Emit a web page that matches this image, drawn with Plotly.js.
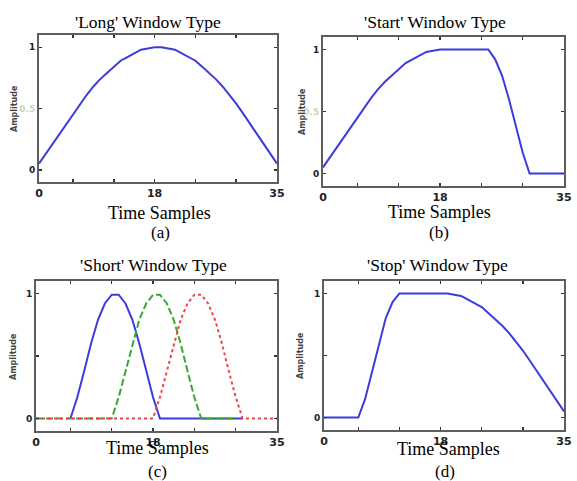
<!DOCTYPE html>
<html>
<head>
<meta charset="utf-8">
<script src="https://cdn.plot.ly/plotly-3.0.1.min.js"></script>
<style>html,body{margin:0;padding:0;background:#fff;}#chart{width:577px;height:481px;}</style>
</head>
<body>
<div id="chart"></div>
<script>
// ---- Data ----
const samples = [1,2,3,4,5,6,7,8,9,10,11,12,13,14,15,16,17,18,19,20,21,22,23,24,25,26,27,28,29,30,31,32,33,34,35,36];

const longWindow = [0.05,0.13,0.21,0.30,0.38,0.46,0.54,0.61,0.68,0.74,0.79,0.84,0.89,0.92,0.95,0.98,0.99,1.00,
                    1.00,0.99,0.98,0.95,0.92,0.89,0.84,0.79,0.74,0.68,0.61,0.54,0.46,0.38,0.30,0.21,0.13,0.05];

const startWindow = [0.05,0.13,0.21,0.30,0.38,0.46,0.54,0.61,0.68,0.74,0.79,0.84,0.89,0.92,0.95,0.98,0.99,1.00,
                     1,1,1,1,1,1,1,0.92,0.79,0.60,0.38,0.17,0,0,0,0,0,0];

const shortBlue  = [null,null,null,null,null,0,0.17,0.38,0.60,0.79,0.92,0.99,0.99,0.92,0.79,0.60,0.38,0.17,0,
                    0,0,0,0,0,0,0,0,0,0,0,0,null,null,null,null,null];
const shortGreen = [0,0,0,0,0,0,0,0,0,0,0,0,0.17,0.38,0.60,0.79,0.92,0.99,0.99,0.92,0.79,0.60,0.38,0.17,0,
                    0,0,0,0,0,null,null,null,null,null,null];
const shortRed   = [0,0,0,0,0,0,0,0,0,0,0,0,0,0,0,0,0,0,0.17,0.38,0.60,0.79,0.92,0.99,0.99,0.92,0.79,0.60,0.38,0.17,0,
                    0,0,0,0,0];

const stopWindow = [0,0,0,0,0,0,0.15,0.37,0.60,0.80,0.93,1,1,1,1,1,1,1,
                    1.00,0.99,0.98,0.95,0.92,0.89,0.84,0.79,0.74,0.68,0.61,0.54,0.46,0.38,0.30,0.21,0.13,0.05];

const xTickVals = [1,6,12,18,24,30,36];
const xTickText = ['0','','','18','','','35'];
const yTickVals = [0,0.5,1];
const yTickTextTop = ['0','<span style="color:#c8d8c0">0.5</span>','1'];
const yTickTextBottom = ['0','','1'];

const titles = ["'Long' Window Type","'Start' Window Type","'Short' Window Type","'Stop' Window Type"];
const xLabel = "Time Samples";
const yLabel = "Amplitude";
const panelLabels = ["(a)","(b)","(c)","(d)"];

// ---- Layout ----
const W = 577, H = 481;
const px = v => v / W;
const py = v => 1 - v / H;

const BLUE = '#3c3cde', GREEN = '#34a834', RED = '#ee4646';

function xa(dom) {
  return {domain: dom, range: [1,36], tickmode: 'array', tickvals: xTickVals, ticktext: xTickText,
          ticks: 'inside', ticklen: 3, tickwidth: 1.5, tickcolor: '#333', showline: true, mirror: 'ticks',
          linecolor: '#5e5e5e', linewidth: 2, showgrid: false, zeroline: false, fixedrange: true,
          tickfont: {family: 'DejaVu Sans', size: 11, color: '#222', weight: 'bold'}};
}
function ya(dom, txt) {
  return {domain: dom, range: [-0.1,1.1], tickmode: 'array', tickvals: yTickVals, ticktext: txt,
          ticks: 'inside', ticklen: 3, tickwidth: 1.5, tickcolor: '#333', showline: true, mirror: 'ticks',
          linecolor: '#5e5e5e', linewidth: 2, showgrid: false, zeroline: false, fixedrange: true,
          tickfont: {family: 'DejaVu Sans', size: 9, color: '#222', weight: 'bold'}};
}

const line = (y, xaN, yaN, color, dash) => ({
  x: samples, y: y, xaxis: xaN, yaxis: yaN, type: 'scatter', mode: 'lines',
  line: {color: color, width: 2, dash: dash || 'solid'}, connectgaps: false, hoverinfo: 'skip'
});

const data = [
  line(longWindow, 'x', 'y', BLUE),
  line(startWindow, 'x2', 'y2', BLUE),
  line(shortBlue, 'x3', 'y3', BLUE),
  line(shortGreen, 'x3', 'y3', GREEN, '7px,3px'),
  line(shortRed, 'x3', 'y3', RED, '3px,3px'),
  line(stopWindow, 'x4', 'y4', BLUE)
];

const serif = 'Liberation Serif, Times New Roman, serif';
function ann(text, x, y, size, extra) {
  return Object.assign({text: text, xref: 'paper', yref: 'paper', x: px(x), y: py(y),
    xanchor: 'center', yanchor: 'middle', showarrow: false,
    font: {family: serif, size: size, color: '#000'}}, extra || {});
}
function ylab(x, y) {
  return {text: yLabel, xref: 'paper', yref: 'paper', x: px(x), y: py(y), xanchor: 'center', yanchor: 'middle',
    showarrow: false, textangle: -90, font: {family: 'DejaVu Sans', size: 8, color: '#444', weight: 'bold'}};
}

const annotations = [
  ann(titles[0], 148, 22, 17.5), ann(titles[1], 435, 22, 17.5),
  ann(titles[2], 153, 265, 17.5), ann(titles[3], 437, 265, 17.5),
  ann(xLabel, 159, 213, 18), ann(xLabel, 439, 212, 18),
  ann(xLabel, 157, 448, 18), ann(xLabel, 448, 449, 18),
  ann(panelLabels[0], 160, 232, 17), ann(panelLabels[1], 439, 232, 17),
  ann(panelLabels[2], 157, 471, 17), ann(panelLabels[3], 445, 471, 17),
  ylab(15, 109), ylab(302, 112), ylab(13, 357), ylab(300, 356)
];

const layout = {
  width: W, height: H, margin: {l: 0, r: 0, t: 0, b: 0},
  paper_bgcolor: '#fff', plot_bgcolor: '#fff', showlegend: false,
  xaxis: Object.assign(xa([px(39), px(277)]), {anchor: 'y'}), yaxis: Object.assign(ya([py(182), py(35)], yTickTextTop), {anchor: 'x'}),
  xaxis2: Object.assign(xa([px(323), px(564)]), {anchor: 'y2'}), yaxis2: Object.assign(ya([py(186), py(37)], yTickTextTop), {anchor: 'x2'}),
  xaxis3: Object.assign(xa([px(36), px(277)]), {anchor: 'y3'}), yaxis3: Object.assign(ya([py(431), py(281)], yTickTextBottom), {anchor: 'x3'}),
  xaxis4: Object.assign(xa([px(324), px(564)]), {anchor: 'y4'}), yaxis4: Object.assign(ya([py(430), py(281)], yTickTextBottom), {anchor: 'x4'}),
  annotations: annotations
};

Plotly.newPlot('chart', data, layout, {staticPlot: true, displayModeBar: false});
</script>
</body>
</html>
